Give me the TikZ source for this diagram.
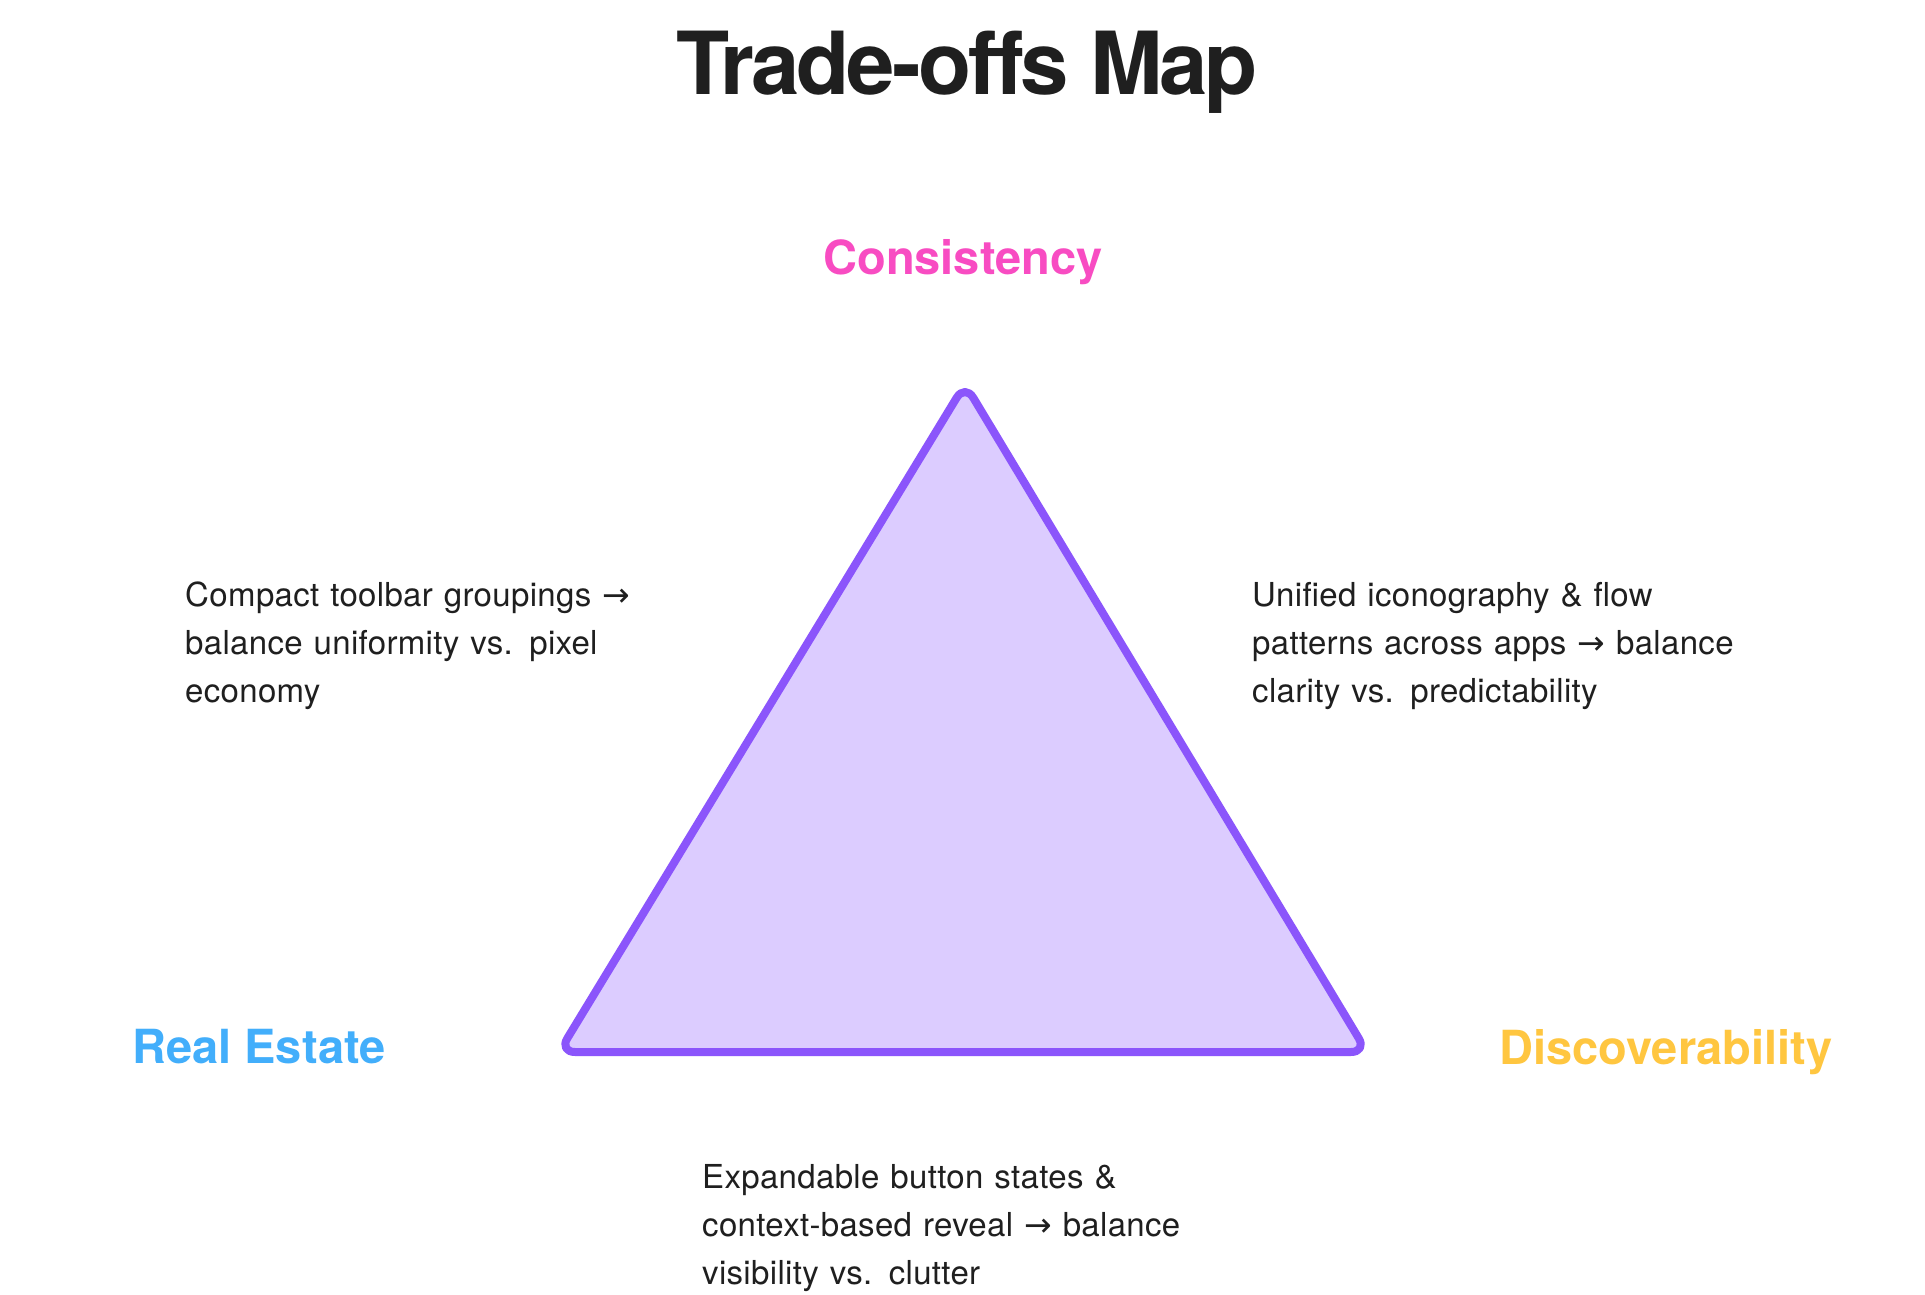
\documentclass[tikz,border=0pt]{standalone}
\usepackage{fontspec}
\setmainfont{TeX Gyre Heros}
\newfontfamily\titlefont[LetterSpace=-3.5]{TeX Gyre Heros}
\newfontfamily\bodyfont[LetterSpace=1]{TeX Gyre Heros}
\newfontfamily\symfont{DejaVu Sans}
\newcommand\rarr{{\symfont →}}
\definecolor{ink}{HTML}{1F1F1F}
\definecolor{pinkc}{HTML}{F84CC2}
\definecolor{bluec}{HTML}{42AEFB}
\definecolor{yellowc}{HTML}{FFC640}
\definecolor{purplec}{HTML}{8B55FB}
\definecolor{fillc}{HTML}{DCCCFF}
\tikzset{
  title/.style={font=\titlefont\bfseries\fontsize{87}{100}\selectfont, text=ink, inner sep=0pt},
  corner/.style={font=\bfseries\fontsize{47}{52}\selectfont, inner sep=0pt},
  note/.style={font=\bodyfont\fontsize{33}{48}\selectfont, text=ink, inner sep=0pt, align=left, text width=560pt},
  tri/.style={draw=purplec, fill=fillc, line width=8pt, rounded corners=16pt, line join=round}
}
\begin{document}
\begin{tikzpicture}[x=1pt,y=-1pt]
\useasboundingbox (0,0) rectangle (1925,1295);
\fill[white] (0,0) rectangle (1925,1295);
\node[title, anchor=base] (title) at (967,95) {Trade-offs Map};
\coordinate (A) at (965,384);
\coordinate (B) at (559,1052);
\coordinate (C) at (1367,1052);
\draw[tri] (A) -- (B) -- (C) -- cycle;
\node[corner, text=pinkc, anchor=base] (cons) at (963,274) {Consistency};
\node[corner, text=bluec, anchor=base] (real) at (259,1063) {Real Estate};
\node[corner, text=yellowc, anchor=base] (disc) at (1666,1064) {Discoverability};
\node[note, anchor=base west] (left) at (185,606) {Compact toolbar groupings \rarr\\balance uniformity vs. pixel\\economy};
\node[note, anchor=base west] (right) at (1252,606) {Unified iconography \& flow\\patterns across apps \rarr{} balance\\clarity vs. predictability};
\node[note, anchor=base west] (bottom) at (702,1188) {Expandable button states \&\\context-based reveal \rarr{} balance\\visibility vs. clutter};
\end{tikzpicture}
\end{document}
